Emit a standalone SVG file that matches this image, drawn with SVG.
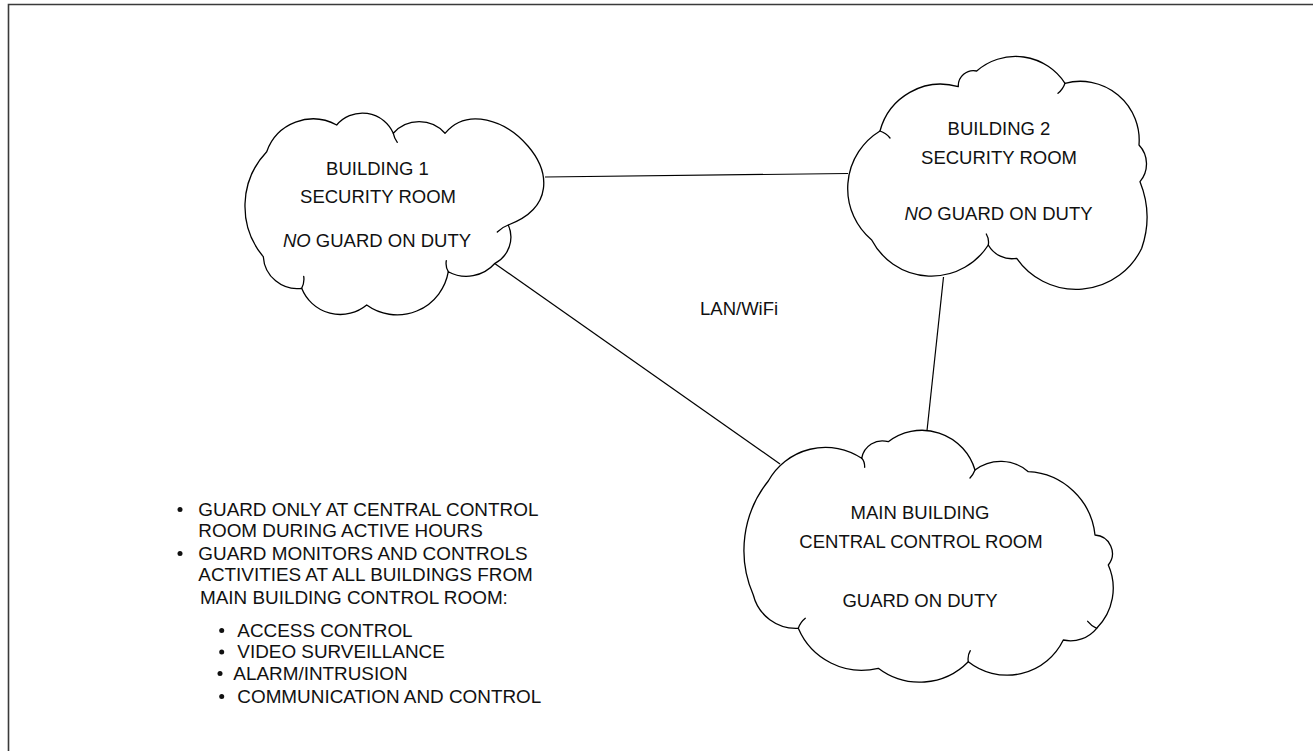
<svg xmlns="http://www.w3.org/2000/svg" width="1313" height="751" viewBox="0 0 1313 751">
  <style>
    .frame { fill: none; stroke: #3a3a3a; stroke-width: 1.6; }
    .cloud { fill: #ffffff; stroke: #000000; stroke-width: 1.3; stroke-linejoin: round; }
    .hook { fill: none; stroke: #000000; stroke-width: 1.3; stroke-linecap: round; }
    .link { fill: none; stroke: #000000; stroke-width: 1.2; }
    text { font-family: "Liberation Sans", Arial, sans-serif; font-size: 18.5px; fill: #111111; }
    #notes text { font-size: 18.9px; }
    .mid { text-anchor: middle; }
    .it { font-style: italic; }
    .dot { fill: #111111; }
  </style>

  <rect x="0" y="0" width="1313" height="751" fill="#ffffff"/>
  <!-- page frame (only top and left edges fall inside the sheet) -->
  <path class="frame" d="M8.5,751 V4.5 H1313"/>

  <!-- network links -->
  <g id="connectors">
    <line class="link" x1="545" y1="177" x2="848" y2="173.5"/>
    <line class="link" x1="494" y1="263" x2="780" y2="464"/>
    <line class="link" x1="943.5" y1="277" x2="926.7" y2="433.5"/>
  </g>

  <g id="building1">
    <path class="cloud" d="M266.7,151.7 A49.2,49.2 0 0 1 336.7,125 A33.7,33.7 0 0 1 393.3,133.3 A34.6,34.6 0 0 1 445,133.3 C490,80 600,190 508.3,225 A29.6,29.6 0 0 1 495,263.3 A38,38 0 0 1 448.3,271.7 A51.9,51.9 0 0 1 366.7,305 A41.5,41.5 0 0 1 301.7,288.3 A34,34 0 0 1 263.3,256.7 A79,79 0 0 1 266.7,151.7 Z"/>
    <path class="hook" d="M393.3,133.3 q1,5 4,9 M508.3,225 q-6,2 -11,7 M448.3,271.7 q-3,-5 -2,-11 M301.7,288.3 q3,-6 2,-12"/>
    <text class="mid" x="377.5" y="175">BUILDING 1</text>
    <text class="mid" x="378" y="203">SECURITY ROOM</text>
    <text class="mid" x="377" y="247"><tspan class="it">NO</tspan> GUARD ON DUTY</text>
  </g>

  <g id="building2">
    <path class="cloud" d="M880,131 A62.8,62.8 0 0 1 958.3,86.7 A15.2,15.2 0 0 1 976.7,71 A59,59 0 0 1 1065,83.3 A58.9,58.9 0 0 1 1139,145 A27.6,27.6 0 0 1 1140,181.7 A95,95 0 0 1 1141.7,248.3 A72.6,72.6 0 0 1 1016.7,258.3 A27,27 0 0 1 988.3,245 A67.5,67.5 0 0 1 871.7,240 A67.3,67.3 0 0 1 880,131 Z"/>
    <path class="hook" d="M880,131 q6,2 10,7 M1065,83.3 q-2,6 -7,10 M988.3,245 q1,-6 -2,-11"/>
    <text class="mid" x="999" y="135">BUILDING 2</text>
    <text class="mid" x="999" y="164">SECURITY ROOM</text>
    <text class="mid" x="998.5" y="220"><tspan class="it">NO</tspan> GUARD ON DUTY</text>
  </g>

  <g id="main-building">
    <path class="cloud" d="M768.3,481 A65.5,65.5 0 0 1 861.7,458.3 A21,21 0 0 1 888.3,441.7 A55.3,55.3 0 0 1 975,470 A42,42 0 0 1 1028.3,471.7 A70.7,70.7 0 0 1 1095,535 A18.5,18.5 0 0 1 1108.3,565 A56.9,56.9 0 0 1 1096.7,628.3 A33.7,33.7 0 0 1 1063.3,640 A62.5,62.5 0 0 1 968.3,661.7 A68.3,68.3 0 0 1 878.3,668.3 A69,69 0 0 1 798.3,628.3 A44,44 0 0 1 753.3,595 A111,111 0 0 1 768.3,481 Z"/>
    <path class="hook" d="M861.7,458.3 q3,3 3,9 M975,470 q-2,5 -5,8 M1096.7,628.3 q-5,-2 -9,-7 M968.3,661.7 q-1,-6 2,-11 M798.3,628.3 q2,-6 7,-10"/>
    <text class="mid" x="920" y="518.5">MAIN BUILDING</text>
    <text class="mid" x="921" y="547.5">CENTRAL CONTROL ROOM</text>
    <text class="mid" x="920" y="606.5">GUARD ON DUTY</text>
  </g>

  <g id="link-label">
    <text x="700" y="315">LAN/WiFi</text>
  </g>

  <g id="notes">
    <circle class="dot" cx="180" cy="509.5" r="2.5"/>
    <text x="198.3" y="515.5">GUARD ONLY AT CENTRAL CONTROL</text>
    <text x="198.3" y="537">ROOM DURING ACTIVE HOURS</text>
    <circle class="dot" cx="180" cy="553.5" r="2.5"/>
    <text x="198.3" y="559.5">GUARD MONITORS AND CONTROLS</text>
    <text x="198.3" y="581">ACTIVITIES AT ALL BUILDINGS FROM</text>
    <text x="200" y="604">MAIN BUILDING CONTROL ROOM:</text>

    <circle class="dot" cx="221.7" cy="630.5" r="2.5"/>
    <text x="237.3" y="637">ACCESS CONTROL</text>
    <circle class="dot" cx="221.7" cy="652" r="2.5"/>
    <text x="237.3" y="658">VIDEO SURVEILLANCE</text>
    <circle class="dot" cx="220" cy="673.5" r="2.5"/>
    <text x="233.3" y="680">ALARM/INTRUSION</text>
    <circle class="dot" cx="221.7" cy="696.5" r="2.5"/>
    <text x="237.3" y="703">COMMUNICATION AND CONTROL</text>
  </g>
</svg>
